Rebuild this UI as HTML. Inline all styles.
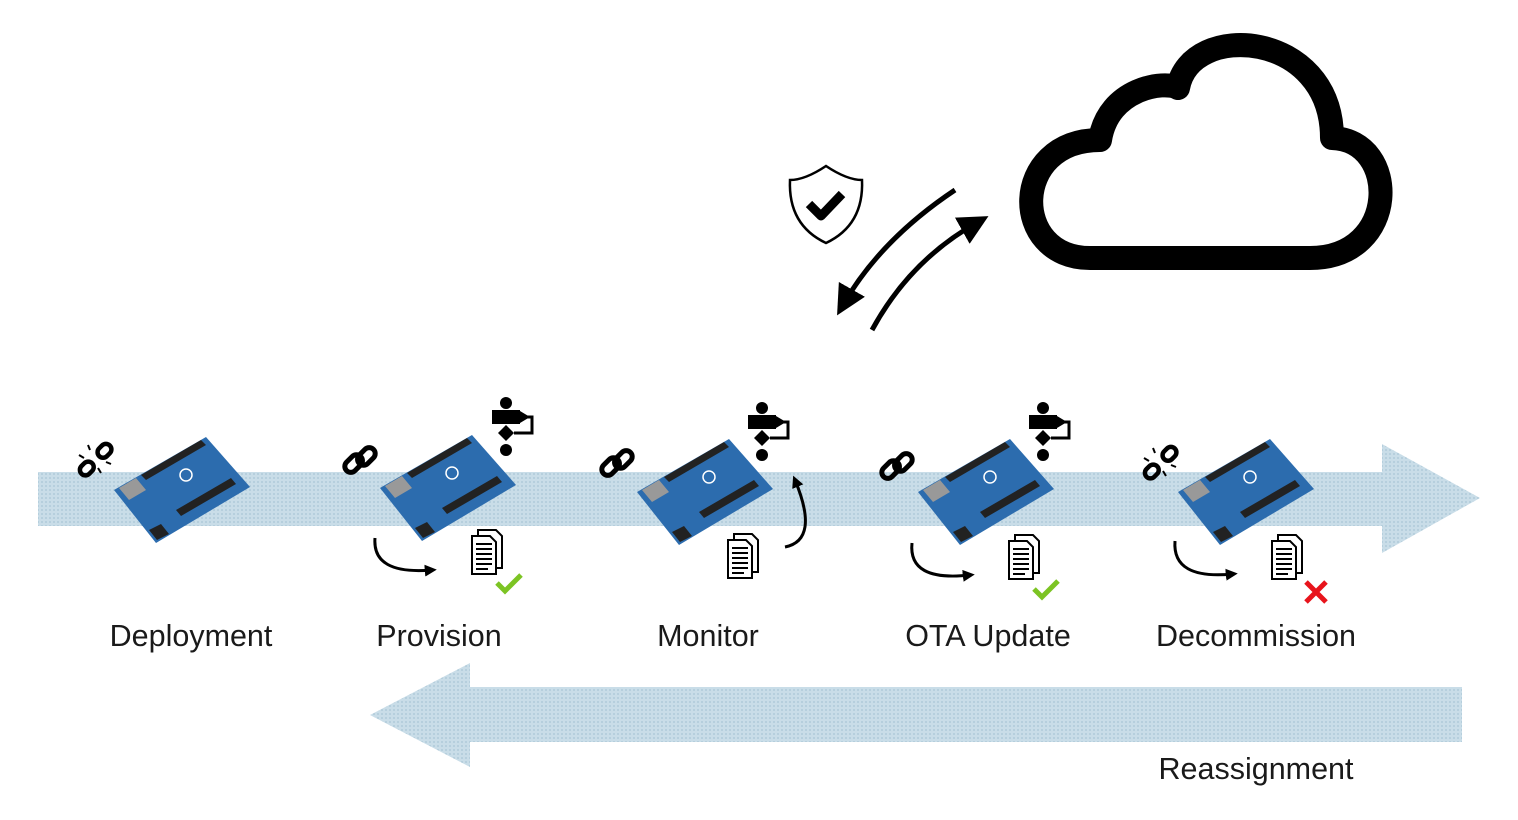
<!DOCTYPE html>
<html><head><meta charset="utf-8"><style>
html,body{margin:0;padding:0;background:#fff;}
svg{display:block}
text{font-family:"Liberation Sans",sans-serif;font-size:30.5px;fill:#1a1a1a;text-anchor:middle}
</style></head><body>
<svg width="1518" height="820" viewBox="0 0 1518 820" xmlns="http://www.w3.org/2000/svg">
<defs>
<pattern id="dots" width="4" height="4" patternUnits="userSpaceOnUse">
<rect width="4" height="4" fill="#c9dde8"/><circle cx="2" cy="2" r="0.9" fill="#a9c6d6"/>
</pattern>
<marker id="ah" viewBox="0 0 10 10" refX="6" refY="5" markerWidth="6" markerHeight="6" orient="auto"><path d="M0,0L10,5L0,10z" fill="#000"/></marker>
<marker id="ahs" viewBox="0 0 10 10" refX="6" refY="5" markerWidth="4" markerHeight="4" orient="auto"><path d="M0,0L10,5L0,10z" fill="#000"/></marker>
<g id="board">
<polygon points="-67,0 25,-53 69,-3 -25,53" fill="#2c6cae"/>
<polygon points="-40,-15 20,-50 25,-45 -35,-10" fill="#222"/>
<polygon points="-5,20 50,-12 55,-6 0,26" fill="#222"/>
<polygon points="-62,-2 -45,-12 -35,0 -52,10" fill="#999"/>
<polygon points="-32,40 -20,34 -12,44 -24,50" fill="#222"/>
<circle cx="5" cy="-15" r="6" fill="none" stroke="#fff" stroke-width="1.5"/>
</g>
<g id="link" fill="none" stroke="#000" stroke-width="5">
<rect x="-17" y="-8" width="20" height="12" rx="6" transform="rotate(-45)"/>
<rect x="-3" y="-4" width="20" height="12" rx="6" transform="rotate(-45)"/>
</g>
<g id="blink" fill="none" stroke="#000" stroke-width="4.5">
<rect x="-20" y="-6" width="15" height="11" rx="5.5" transform="rotate(-45)"/>
<rect x="5" y="-6" width="15" height="11" rx="5.5" transform="rotate(-45)"/>
<path d="M-12,-2l-5,-3M-6,-10l-2,-5M2,8l3,5M10,2l5,2" stroke-width="2"/>
</g>
<g id="flow" fill="#000">
<circle cx="0" cy="-22" r="6"/><rect x="-14" y="-15" width="28" height="14"/>
<polygon points="0,0 8,8 0,16 -8,8"/><circle cx="0" cy="25" r="6"/>
<path d="M8,8 H26 V-8 H14" fill="none" stroke="#000" stroke-width="3"/>
<polygon points="14,-14 24,-8 14,-2"/>
</g>
<g id="doc" fill="#fff" stroke="#000" stroke-width="2">
<path d="M-12,-22 H6 L12,-16 V16 H-12Z"/>
<path d="M-18,-16 H0 L6,-10 V22 H-18Z"/>
<path d="M-14,-8H2M-14,-3H2M-14,2H2M-14,7H2M-14,12H2M-14,17H-2" stroke-width="2"/>
</g>
<path id="chk" d="M-12,0 L-4,8 L12,-8" fill="none" stroke="#7cc423" stroke-width="5"/>
</defs>

<polygon points="38,472 1382,472 1382,444 1480,498 1382,553 1382,526 38,526" fill="url(#dots)"/>
<polygon points="1462,687 470,687 470,663 370,715 470,767 470,742 1462,742" fill="url(#dots)"/>

<!-- cloud -->
<path d="M1090,258 L1310,258 C1400,258 1400,140 1332,138 C1332,30 1190,20 1178,88 C1165,80 1108,88 1100,140 C1010,140 1010,258 1090,258 Z" fill="#fff" stroke="#000" stroke-width="24" stroke-linejoin="round"/>

<!-- shield -->
<path d="M826,166 Q805,180 790,180 Q788,225 826,243 Q864,225 862,180 Q847,180 826,166Z" fill="#fff" stroke="#000" stroke-width="2.5"/>
<path d="M809,204 L821,216 L842,194" fill="none" stroke="#000" stroke-width="9" stroke-linejoin="round"/>

<path d="M955,190 Q880,240 843,305" fill="none" stroke="#000" stroke-width="5" marker-end="url(#ah)"/>
<path d="M872,330 Q910,260 978,222" fill="none" stroke="#000" stroke-width="5" marker-end="url(#ah)"/>

<use href="#board" x="181" y="490"/>
<use href="#board" x="447" y="488"/>
<use href="#board" x="704" y="492"/>
<use href="#board" x="985" y="492"/>
<use href="#board" x="1245" y="492"/>

<use href="#blink" x="96" y="460"/>
<use href="#link" x="360" y="460"/>
<use href="#link" x="617" y="463"/>
<use href="#link" x="897" y="466"/>
<use href="#blink" x="1161" y="463"/>

<use href="#flow" x="506" y="425"/>
<use href="#flow" x="762" y="430"/>
<use href="#flow" x="1043" y="430"/>

<use href="#doc" x="490" y="552"/>
<use href="#doc" x="746" y="556"/>
<use href="#doc" x="1027" y="557"/>
<use href="#doc" x="1290" y="557"/>
<use href="#chk" x="509" y="583"/>
<use href="#chk" x="1046" y="589"/>
<path d="M1306,582 L1326,602 M1326,582 L1306,602" stroke="#e8141c" stroke-width="5"/>

<path d="M375,538 Q372,575 432,570" fill="none" stroke="#000" stroke-width="3" marker-end="url(#ahs)"/>
<path d="M912,543 Q908,582 970,575" fill="none" stroke="#000" stroke-width="3" marker-end="url(#ahs)"/>
<path d="M1175,541 Q1172,580 1233,574" fill="none" stroke="#000" stroke-width="3" marker-end="url(#ahs)"/>
<path d="M785,547 Q820,540 795,480" fill="none" stroke="#000" stroke-width="3" marker-end="url(#ahs)"/>

<text x="191" y="646">Deployment</text>
<text x="439" y="646">Provision</text>
<text x="708" y="646">Monitor</text>
<text x="988" y="646">OTA Update</text>
<text x="1256" y="646">Decommission</text>
<text x="1256" y="779">Reassignment</text>
</svg>
</body></html>
